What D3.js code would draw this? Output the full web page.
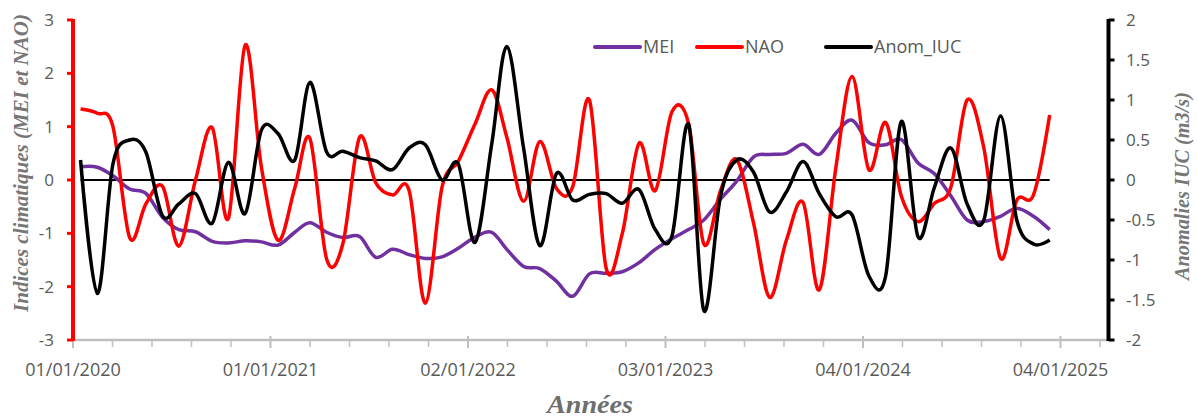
<!DOCTYPE html>
<html><head><meta charset="utf-8">
<script src="https://cdn.jsdelivr.net/npm/d3@7"></script>
<style>
html,body{margin:0;padding:0;background:#fff;}
svg{display:block;}
.sans{font-family:"Open Sans",sans-serif;}
.serif{font-family:"Liberation Serif","Times New Roman",serif;font-style:italic;font-weight:bold;}
</style></head>
<body>
<svg id="chart" width="1197" height="417"></svg>
<script>
// ---- data (monthly, Jan 2020 – Dec 2024) ----
const startMonth = "2020-01-15";
const MEI = [0.25,0.24,0.08,-0.17,-0.25,-0.7,-0.93,-0.97,-1.15,-1.18,-1.14,-1.16,
  -1.22,-0.98,-0.8,-0.98,-1.08,-1.06,-1.45,-1.3,-1.4,-1.47,-1.44,-1.28,
  -1.07,-0.98,-1.3,-1.62,-1.66,-1.9,-2.18,-1.76,-1.75,-1.72,-1.55,-1.3,
  -1.1,-0.93,-0.75,-0.36,-0.02,0.43,0.48,0.5,0.67,0.48,0.88,1.12,
  0.7,0.66,0.76,0.32,0.12,-0.3,-0.75,-0.78,-0.68,-0.53,-0.68,-0.93];
const NAO = [1.33,1.25,1.0,-1.08,-0.45,-0.12,-1.24,0.0,0.98,-0.72,2.53,0.25,
  -1.13,-0.15,0.78,-1.48,-1.2,0.8,-0.05,-0.28,-0.2,-2.31,-0.13,0.35,
  1.05,1.69,0.8,-0.4,0.72,-0.16,-0.13,1.5,-1.65,-1.0,0.69,-0.2,
  1.28,1.05,-1.2,-0.2,0.38,-0.8,-2.2,-1.13,-0.42,-2.06,0.25,1.94,
  0.19,1.08,-0.3,-0.78,-0.44,-0.13,1.5,0.6,-1.47,-0.38,-0.28,1.22];
const IUC = [0.25,-1.42,0.2,0.5,0.35,-0.45,-0.3,-0.17,-0.54,0.22,-0.42,0.62,
  0.58,0.25,1.22,0.35,0.36,0.28,0.24,0.13,0.4,0.44,0.0,0.2,
  -0.78,0.45,1.67,0.4,-0.82,0.08,-0.25,-0.18,-0.17,-0.29,-0.12,-0.62,
  -0.7,0.69,-1.63,-0.2,0.25,0.1,-0.4,-0.15,0.23,-0.17,-0.46,-0.44,
  -1.2,-1.2,0.73,-0.71,-0.1,0.4,-0.3,-0.5,0.8,-0.5,-0.8,-0.75];
const xTickLabels = ["01/01/2020","01/01/2021","02/01/2022","03/01/2023","04/01/2024","04/01/2025"];
const leftTicks = [3,2,1,0,-1,-2,-3];
const rightTicks = [2,1.5,1,0.5,0,-0.5,-1,-1.5,-2];
const seriesNames = ["MEI","NAO","Anom_IUC"];
const seriesColors = ["#7030a0","#ff0000","#000000"];

// ---- layout ----
const svg = d3.select("#chart");
const X0 = 73, X1 = 1108.5, Y0 = 20, Y1 = 340;
const parseTick = d3.timeParse("%d/%m/%Y");
const dates = d3.range(MEI.length).map(i => d3.timeMonth.offset(d3.timeParse("%Y-%m-%d")(startMonth), i));
const x = d3.scaleTime().domain([new Date(2020,0,1), new Date(2025,3,3)]).range([X0, X1]);
const yL = d3.scaleLinear().domain([-3,3]).range([Y1, Y0]);
const yR = d3.scaleLinear().domain([-2,2]).range([Y1, Y0]);
const gray = "#595959";

// x axis
const majorDates = xTickLabels.map(parseTick);
const xg = svg.append("g");
xg.append("line").attr("x1", X0).attr("x2", X1).attr("y1", Y1).attr("y2", Y1)
  .attr("stroke", "#bfbfbf").attr("stroke-width", 2.5);
const minor = [];
for (let k = 0; k < majorDates.length; k++) {
  const a = x(majorDates[k]);
  const step = (x(majorDates[1]) - x(majorDates[0])) / 5;
  for (let j = 1; j < 5; j++) { const p = a + j * step; if (p < X1 - 2) minor.push(p); }
}
xg.selectAll(".mn").data(minor).join("line").attr("x1", d => d).attr("x2", d => d)
  .attr("y1", Y1).attr("y2", Y1 + 7).attr("stroke", "#bfbfbf").attr("stroke-width", 1.5);
xg.selectAll(".mj").data(majorDates).join("line").attr("x1", d => x(d)).attr("x2", d => x(d))
  .attr("y1", Y1 - 4).attr("y2", Y1 + 8).attr("stroke", "#bfbfbf").attr("stroke-width", 2);
xg.selectAll(".xl").data(majorDates).join("text").attr("class", "sans")
  .attr("x", d => x(d)).attr("y", 376).attr("text-anchor", "middle")
  .attr("font-size", 18).attr("fill", gray).text((d, i) => xTickLabels[i]);

// zero line
const line0 = d3.line().x(d => x(d)).y(() => yR(0));
svg.append("path").attr("d", line0(dates)).attr("fill", "none").attr("stroke", "#000").attr("stroke-width", 1.8);

// series
const curve = d3.curveCardinal.tension(0);
const mk = (scale) => d3.line().x((d, i) => x(dates[i])).y(d => scale(d)).curve(curve);
svg.append("path").attr("d", mk(yL)(MEI)).attr("fill", "none").attr("stroke", seriesColors[0]).attr("stroke-width", 3.5).attr("stroke-linejoin","round");
svg.append("path").attr("d", mk(yL)(NAO)).attr("fill", "none").attr("stroke", seriesColors[1]).attr("stroke-width", 3.5).attr("stroke-linejoin","round");
svg.append("path").attr("d", mk(yR)(IUC)).attr("fill", "none").attr("stroke", seriesColors[2]).attr("stroke-width", 3.5).attr("stroke-linejoin","round");

// left axis
const lg = svg.append("g");
lg.append("line").attr("x1", X0).attr("x2", X0).attr("y1", Y0 - 1).attr("y2", Y1 + 1).attr("stroke", "#ff0000").attr("stroke-width", 4);
lg.selectAll(".t").data(leftTicks).join("line").attr("x1", X0 - 6).attr("x2", X0).attr("y1", d => yL(d)).attr("y2", d => yL(d))
  .attr("stroke", "#ff0000").attr("stroke-width", 3);
lg.selectAll(".l").data(leftTicks).join("text").attr("class", "sans").attr("x", 54).attr("y", d => yL(d) + 6).attr("text-anchor", "end")
  .attr("font-size", 17).attr("fill", gray).text(d => d);

// right axis
const rg = svg.append("g");
rg.append("line").attr("x1", X1).attr("x2", X1).attr("y1", Y0 - 1).attr("y2", Y1 + 1).attr("stroke", "#000").attr("stroke-width", 4);
rg.selectAll(".t").data(rightTicks).join("line").attr("x1", X1).attr("x2", X1 + 6).attr("y1", d => yR(d)).attr("y2", d => yR(d))
  .attr("stroke", "#000").attr("stroke-width", 3);
rg.selectAll(".l").data(rightTicks).join("text").attr("class", "sans").attr("x", 1126).attr("y", d => yR(d) + 6).attr("text-anchor", "start")
  .attr("font-size", 17).attr("fill", gray).text(d => d);

// axis titles
svg.append("text").attr("class", "serif").attr("transform", "translate(28,163) rotate(-90)").attr("text-anchor", "middle")
  .attr("font-size", 21).attr("fill", "#767676").attr("textLength", 298).attr("lengthAdjust", "spacingAndGlyphs")
  .text("Indices climatiques (MEI et NAO)");
svg.append("text").attr("class", "serif").attr("transform", "translate(1189,186) rotate(-90)").attr("text-anchor", "middle")
  .attr("font-size", 21).attr("fill", "#767676").attr("textLength", 188).attr("lengthAdjust", "spacingAndGlyphs")
  .text("Anomalies IUC (m3/s)");
svg.append("text").attr("class", "serif").attr("x", 590).attr("y", 413).attr("text-anchor", "middle")
  .attr("font-size", 25).attr("fill", "#6e6e6e").attr("textLength", 86).attr("lengthAdjust", "spacingAndGlyphs")
  .text("Années");

// legend
const legX = [595, 697, 826];
const leg = svg.append("g");
seriesNames.forEach((n, i) => {
  leg.append("line").attr("x1", legX[i]).attr("x2", legX[i] + 45).attr("y1", 47).attr("y2", 47)
    .attr("stroke", seriesColors[i]).attr("stroke-width", 4).attr("stroke-linecap", "round");
  leg.append("text").attr("class", "sans").attr("x", legX[i] + 48).attr("y", 53).attr("font-size", 18).attr("fill", gray).text(n);
});
</script>
</body></html>
